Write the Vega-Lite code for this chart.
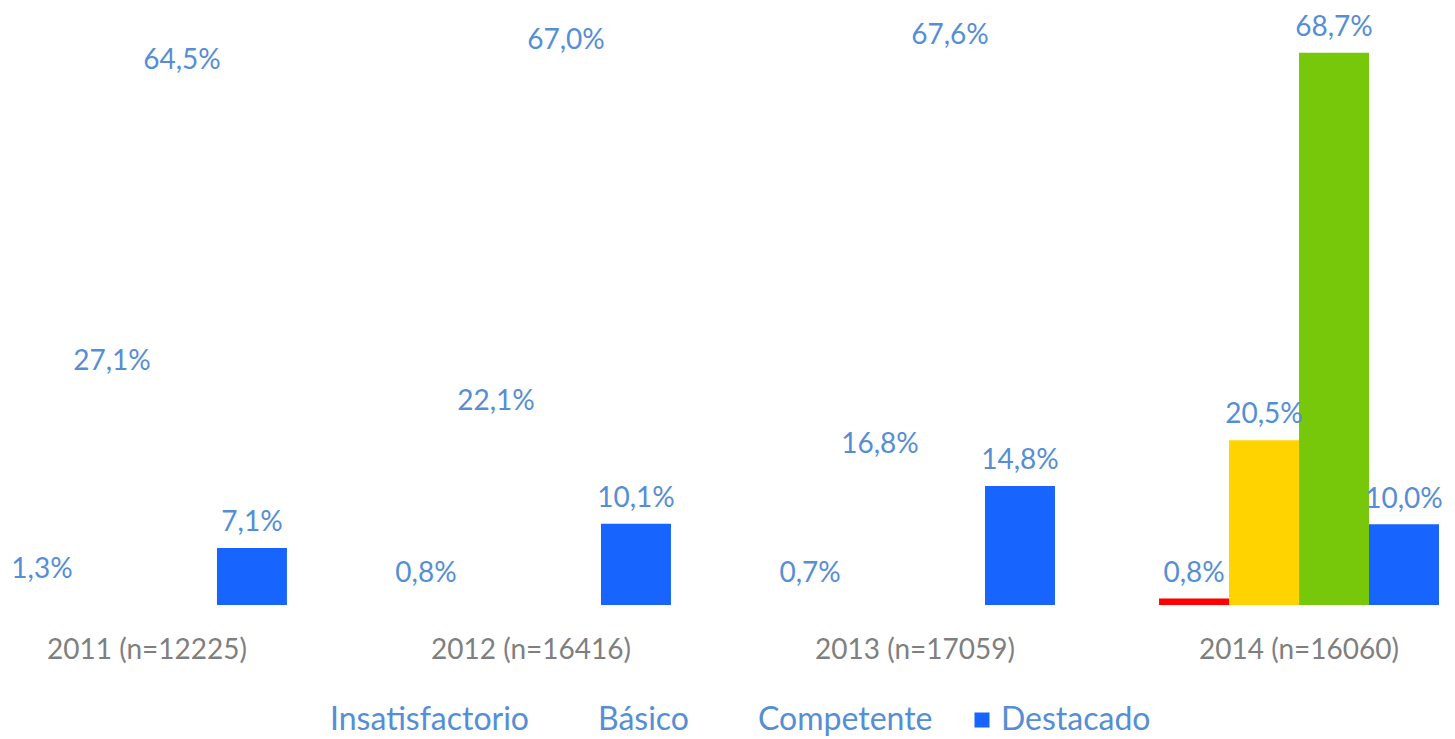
{
  "$schema": "https://vega.github.io/schema/vega-lite/v6.json",
  "width": 1455,
  "height": 603,
  "autosize": {"type": "none"},
  "padding": {"left": 0, "top": 2, "right": 0, "bottom": 134},
  "background": "#ffffff",
  "config": {
    "view": {"stroke": null},
    "font": "Lato",
    "locale": {"number": {"decimal": ",", "thousands": ".", "grouping": [3], "currency": ["", " €"]}}
  },
  "data": {
    "values": [
      {"Año": "2011 (n=12225)", "Nivel": "Insatisfactorio", "valor": 0.013},
      {"Año": "2011 (n=12225)", "Nivel": "Básico", "valor": 0.271},
      {"Año": "2011 (n=12225)", "Nivel": "Competente", "valor": 0.645},
      {"Año": "2011 (n=12225)", "Nivel": "Destacado", "valor": 0.071},
      {"Año": "2012 (n=16416)", "Nivel": "Insatisfactorio", "valor": 0.008},
      {"Año": "2012 (n=16416)", "Nivel": "Básico", "valor": 0.221},
      {"Año": "2012 (n=16416)", "Nivel": "Competente", "valor": 0.670},
      {"Año": "2012 (n=16416)", "Nivel": "Destacado", "valor": 0.101},
      {"Año": "2013 (n=17059)", "Nivel": "Insatisfactorio", "valor": 0.007},
      {"Año": "2013 (n=17059)", "Nivel": "Básico", "valor": 0.168},
      {"Año": "2013 (n=17059)", "Nivel": "Competente", "valor": 0.676},
      {"Año": "2013 (n=17059)", "Nivel": "Destacado", "valor": 0.148},
      {"Año": "2014 (n=16060)", "Nivel": "Insatisfactorio", "valor": 0.008},
      {"Año": "2014 (n=16060)", "Nivel": "Básico", "valor": 0.205},
      {"Año": "2014 (n=16060)", "Nivel": "Competente", "valor": 0.687},
      {"Año": "2014 (n=16060)", "Nivel": "Destacado", "valor": 0.100}
    ]
  },
  "encoding": {
    "x": {
      "field": "Año",
      "type": "nominal",
      "sort": null,
      "scale": {"range": [7, 1439], "paddingInner": 0.271, "paddingOuter": 0},
      "axis": {
        "title": null,
        "domain": false,
        "ticks": false,
        "labelAngle": 0,
        "labelFont": "Lato",
        "labelFontSize": 28,
        "labelColor": "#7F7F7F",
        "labelPadding": 31,
        "labelLimit": 400
      }
    },
    "xOffset": {
      "field": "Nivel",
      "type": "nominal",
      "sort": ["Insatisfactorio", "Básico", "Competente", "Destacado"],
      "scale": {"paddingInner": 0, "paddingOuter": 0}
    },
    "y": {
      "field": "valor",
      "type": "quantitative",
      "scale": {"domain": [0, 0.75], "nice": false},
      "axis": null
    }
  },
  "layer": [
    {
      "mark": {"type": "bar"},
      "encoding": {
        "color": {
          "field": "Nivel",
          "type": "nominal",
          "sort": ["Insatisfactorio", "Básico", "Competente", "Destacado"],
          "scale": {
            "domain": ["Insatisfactorio", "Básico", "Competente", "Destacado"],
            "range": ["#ffffff", "#ffffff", "#ffffff", "#1764FF"]
          },
          "legend": {
            "title": null,
            "orient": "none",
            "direction": "horizontal",
            "legendX": 295,
            "legendY": 702,
            "symbolType": "square",
            "symbolSize": 225,
            "symbolStrokeWidth": 0,
            "labelFont": "Lato",
            "labelFontSize": 32,
            "labelColor": "#558ED5",
            "labelLimit": 400,
            "labelOffset": 3,
            "columnPadding": 33,
            "symbolOffset": 0
          }
        }
      }
    },
    {
      "transform": [{"filter": "datum['Año'] == '2014 (n=16060)'"}],
      "mark": {"type": "bar"},
      "encoding": {
        "fill": {
          "field": "Nivel",
          "type": "nominal",
          "scale": {
            "domain": ["Insatisfactorio", "Básico", "Competente", "Destacado"],
            "range": ["#FF0000", "#FFD300", "#77C80A", "#1764FF"]
          },
          "legend": null
        }
      }
    },
    {
      "mark": {
        "type": "text",
        "baseline": "bottom",
        "dy": -11,
        "font": "Lato",
        "fontSize": 28,
        "color": "#558ED5"
      },
      "encoding": {
        "text": {"field": "valor", "type": "quantitative", "format": ".1%"}
      }
    }
  ]
}
